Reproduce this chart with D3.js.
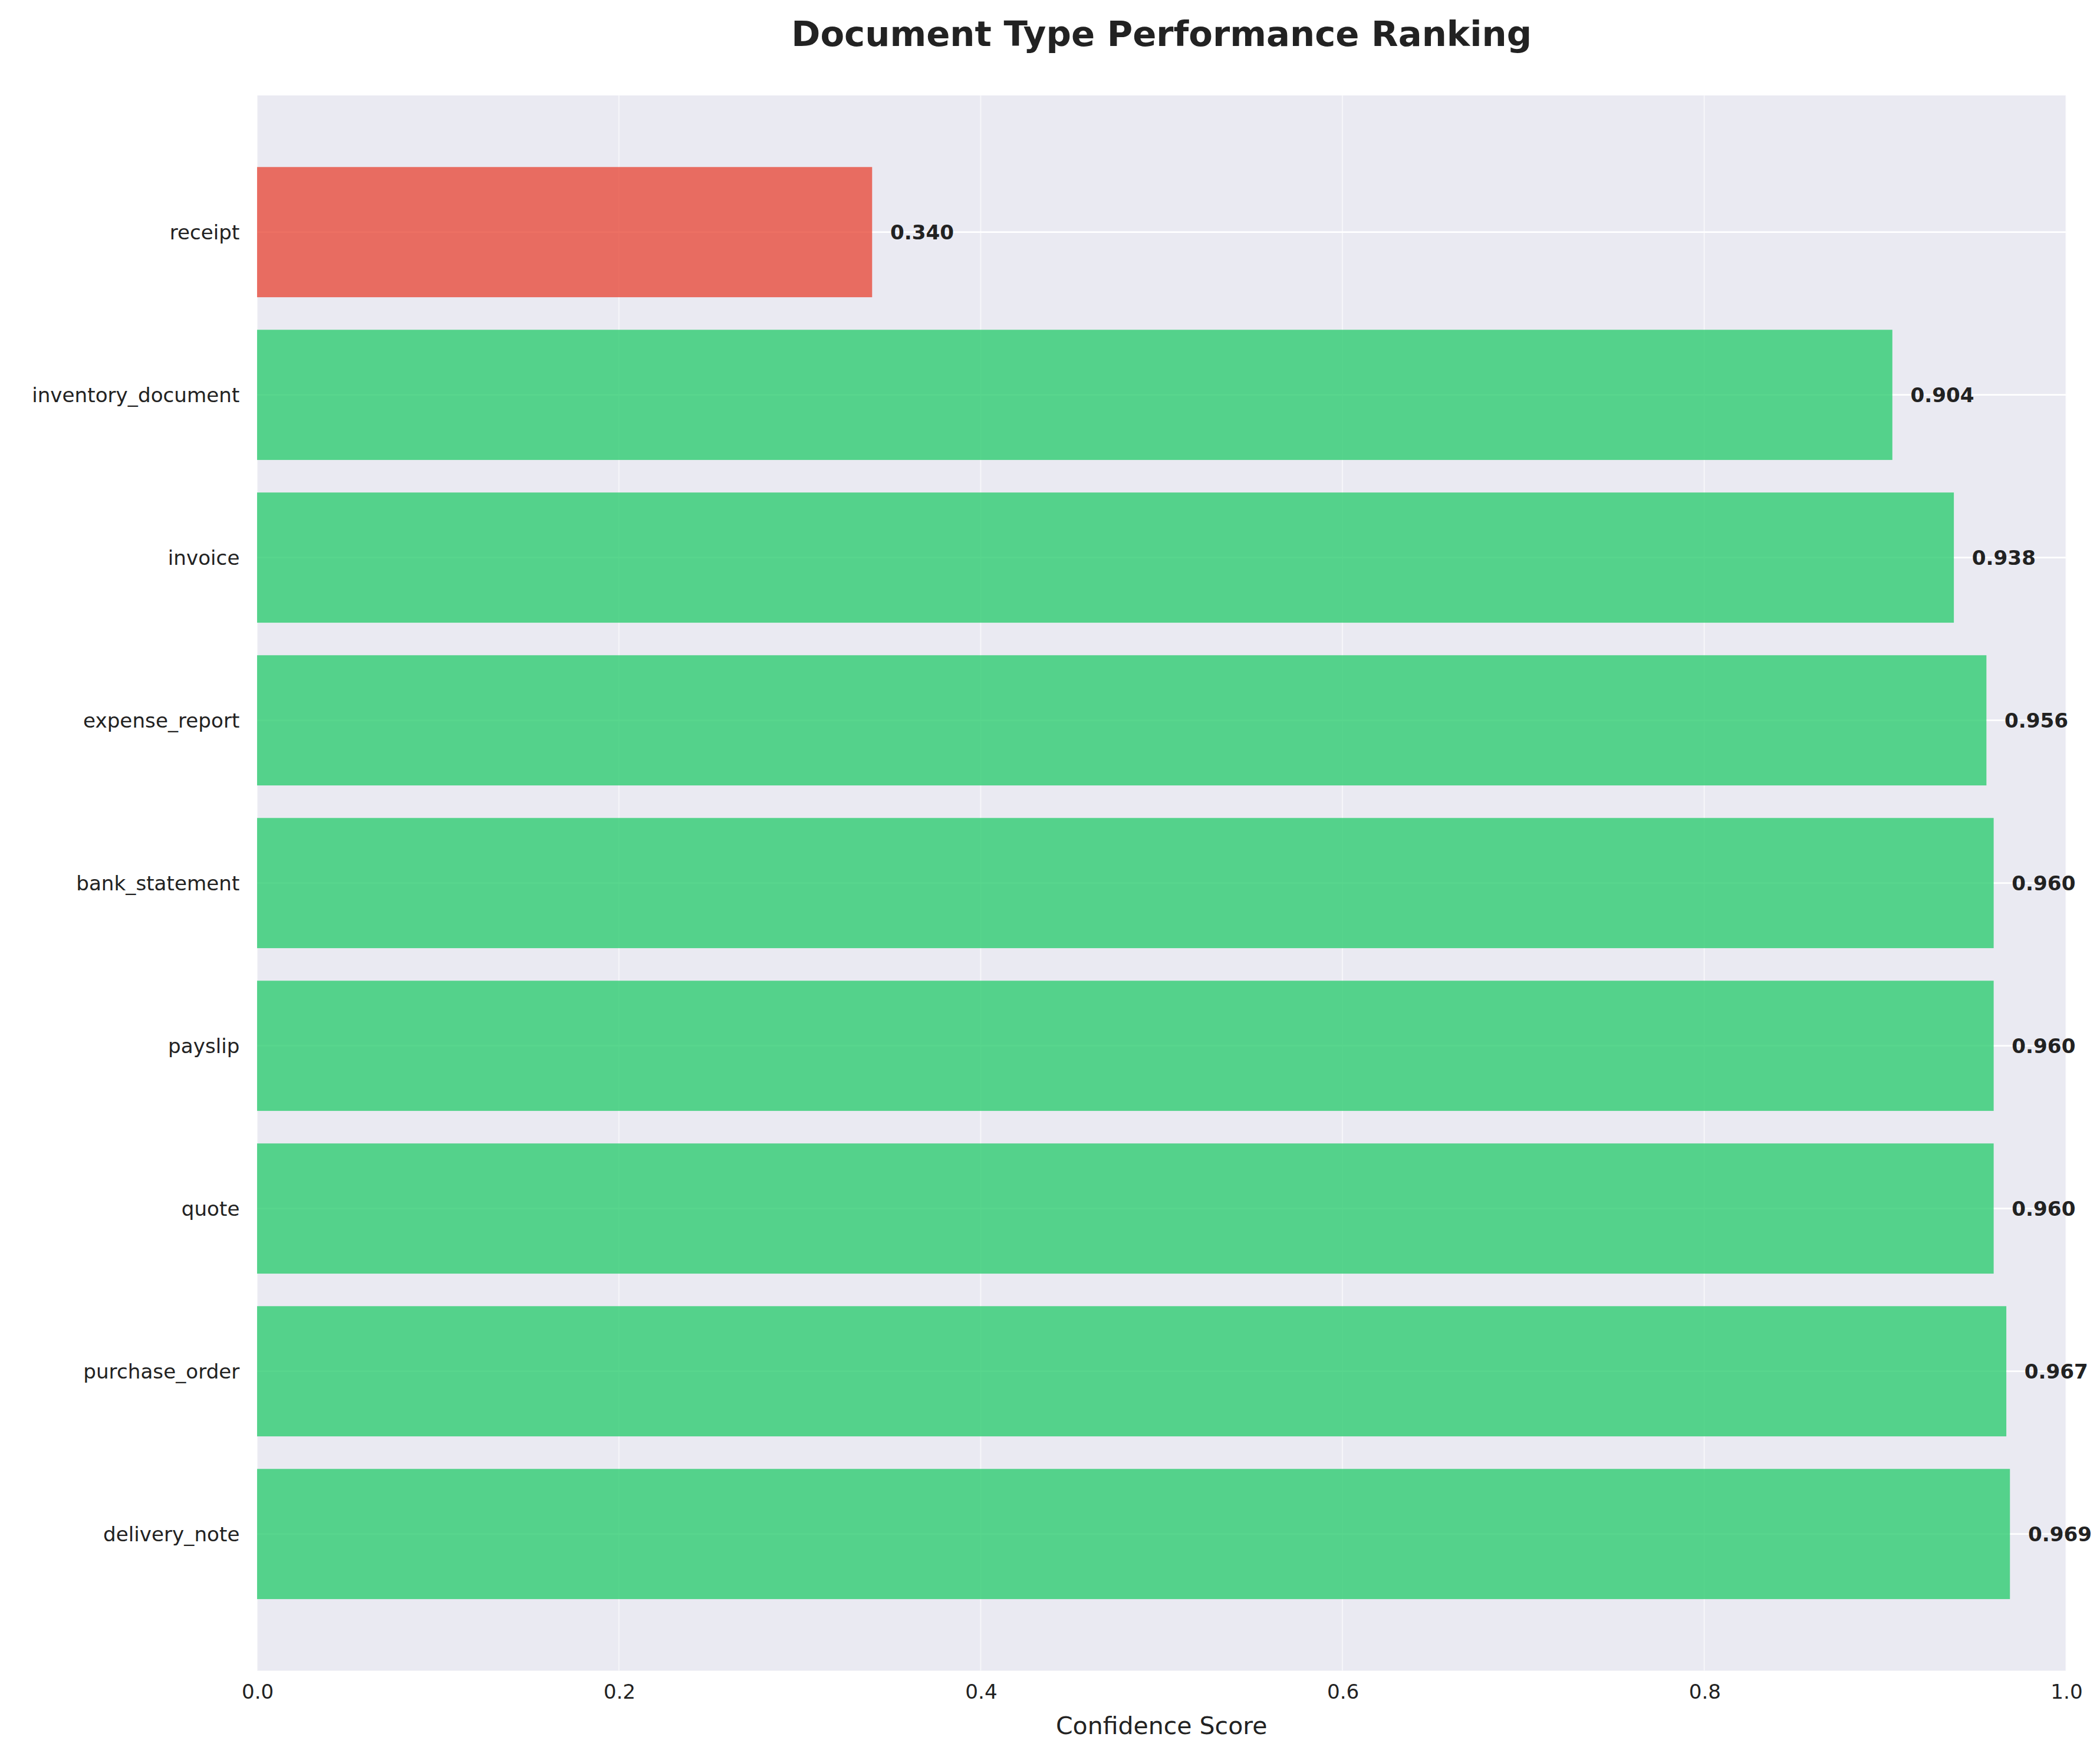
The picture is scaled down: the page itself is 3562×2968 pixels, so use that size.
<!DOCTYPE html>
<html><head><meta charset="utf-8">
<script src="https://cdn.jsdelivr.net/npm/d3@7"></script>
<style>body{margin:0;background:#fff}</style>
</head><body>
<script>
var categories = ["receipt","inventory_document","invoice","expense_report","bank_statement","payslip","quote","purchase_order","delivery_note"];
var scores = [0.340,0.904,0.938,0.956,0.960,0.960,0.960,0.967,0.969];
var xTicks = [0,0.2,0.4,0.6,0.8,1.0];

var W = 1562, H = 1302;
var margin = {top: 71, right: 25, bottom: 59, left: 191};
var width = W - margin.left - margin.right, height = H - margin.top - margin.bottom;

var svg = d3.select("body").append("svg")
    .attr("width", 3562).attr("height", 2968)
    .attr("viewBox", "0 0 " + W + " " + H)
    .style("font-family", "'DejaVu Sans', Arial, sans-serif");

svg.append("text").attr("x", margin.left + width / 2).attr("y", 34)
    .attr("text-anchor", "middle").attr("font-size", 26).attr("font-weight", "bold")
    .attr("fill", "#222").text("Document Type Performance Ranking");

var g = svg.append("g").attr("transform", "translate(" + margin.left + "," + margin.top + ")");

var x = d3.scaleLinear().domain([0, 1]).range([0, width]);
var y = d3.scaleLinear().domain([-0.84, 8.84]).range([0, height]);

g.append("rect").attr("width", width).attr("height", height).attr("fill", "#eaeaf2");

g.selectAll(".vg").data(xTicks).enter().append("line")
    .attr("x1", d => x(d)).attr("x2", d => x(d)).attr("y1", 0).attr("y2", height)
    .attr("stroke", "#fff").attr("stroke-opacity", 0.5).attr("stroke-width", 1);
g.selectAll(".hg").data(categories).enter().append("line")
    .attr("x1", 0).attr("x2", width).attr("y1", (d, i) => y(i)).attr("y2", (d, i) => y(i))
    .attr("stroke", "#fff").attr("stroke-width", 1.2);

var bh = y(0.4) - y(-0.4);
g.selectAll(".bar").data(scores).enter().append("rect")
    .attr("x", x(0)).attr("y", (d, i) => y(i) - bh / 2)
    .attr("width", d => x(d) - x(0)).attr("height", bh)
    .attr("fill", d => d < 0.5 ? "#e74c3c" : "#2ecc71").attr("fill-opacity", 0.8);

g.selectAll(".val").data(scores).enter().append("text")
    .attr("x", d => x(d + 0.01)).attr("y", (d, i) => y(i)).attr("dy", "0.35em")
    .attr("font-size", 15).attr("font-weight", "bold").attr("fill", "#222")
    .text(d => d.toFixed(3));

var yl = g.append("g");
categories.forEach(function(c, i) {
  yl.append("text").attr("x", -13).attr("y", y(i)).attr("dy", "0.35em")
    .attr("text-anchor", "end").attr("font-size", 15).attr("fill", "#222").text(c);
});

var xa = g.append("g").attr("transform", "translate(0," + height + ")")
    .call(d3.axisBottom(x).tickValues(xTicks).tickFormat(d3.format(".1f")).tickSize(0).tickPadding(10));
xa.select(".domain").remove();
xa.selectAll("text").attr("font-size", 15).attr("fill", "#222").style("font-family", "'DejaVu Sans', Arial, sans-serif");

svg.append("text").attr("x", margin.left + width / 2).attr("y", H - 12)
    .attr("text-anchor", "middle").attr("font-size", 18).attr("fill", "#222").text("Confidence Score");
</script>
</body></html>
